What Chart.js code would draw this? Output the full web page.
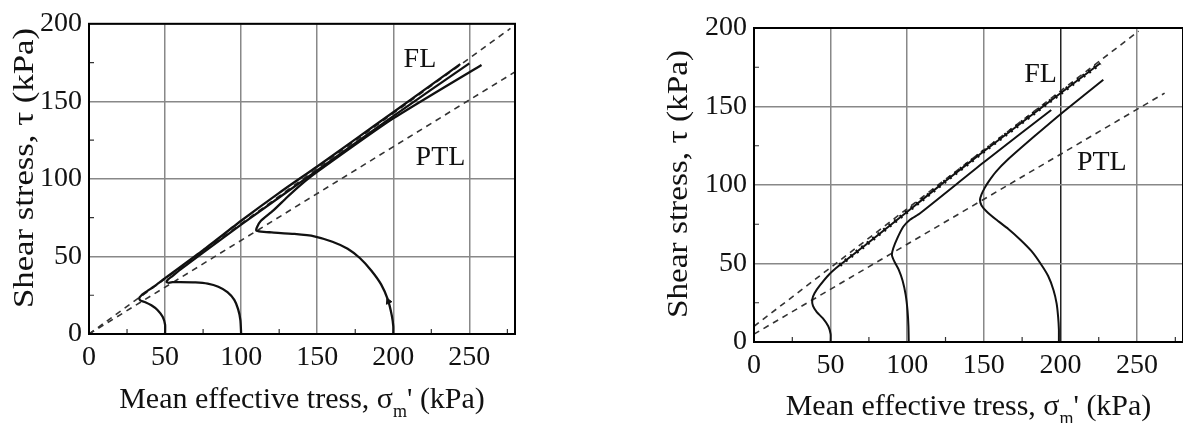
<!DOCTYPE html>
<html>
<head>
<meta charset="utf-8">
<script src="https://cdn.jsdelivr.net/npm/chart.js@4.4.1/dist/chart.umd.min.js"></script>
<style>
  html, body { margin: 0; padding: 0; background: #fff; overflow: hidden; width: 1183px; height: 423px; }
  .box { position: absolute; top: 0; }
  #boxA { left: 0; }
  #boxB { left: 640px; }
</style>
</head>
<body>
<div class="box" id="boxA"><canvas id="chartA" width="540" height="423"></canvas></div>
<div class="box" id="boxB"><canvas id="chartB" width="560" height="423"></canvas></div>
<script>
// axis ticks shared by both panels
const xTicks = [0, 50, 100, 150, 200, 250];
const yTicks = [0, 50, 100, 150, 200];
const xMax = 280;
const yMax = 200;

// left panel: stress paths from p0 = 50, 100, 200 kPa  [sigma_m', tau]
const leftPath50 = [[50,0],[50,6],[48.5,11],[45,15.5],[41,18.5],[37,20.5],[34,21.5],[33,23],[34.5,25],[38,27.5],[44,31.5],[50,36],[75,54],[100,73],[125,91],[150,108],[175,125.5],[200,143],[244,174]];
const leftPath100 = [[100,0],[99.5,9],[98,16],[95.5,22],[91,27],[85,30.5],[78,32.5],[70,33.3],[60,33.5],[55,33.4],[52.5,33],[51,33.6],[52,35.2],[55,37.5],[60,41.5],[75,52.5],[100,70.5],[150,105.5],[200,140.5],[250,174.5]];
const leftPath200 = [[200,0],[200,5],[199,12],[196.5,22],[192,32],[185.5,41],[178,49],[170,55],[160,59.5],[148,63],[135,64.5],[120,65.5],[113,66],[110,66.7],[110.5,69],[113,73],[121,79.5],[130,88],[139,96],[150,104.5],[200,139],[258,173.5]];
const leftArrow = [[196.8,21]];
const leftFL = [[0,0],[277,197]];
const leftPTL = [[0,0],[280,169]];

// right panel
const rightPath50 = [[50,0],[50,5],[48.5,10],[45,15],[41,19],[38.5,23],[38,27],[39.5,31],[43,36],[49,43],[56,49],[75,63.5],[100,83],[125,102.5],[150,121.5],[175,140],[200,158.4],[226,177.5]];
const rightPath100 = [[101,0],[100.8,10],[100.2,20],[99,30],[97,39],[94.5,46],[91.5,51.5],[90,55.4],[90.9,59.7],[93.5,66],[97.4,73.4],[102,78],[108.4,82],[150,114.5],[194,147.8]];
const rightPath200 = [[199,0],[199,8],[198.5,16],[197.5,24.6],[195.5,33],[192,42],[187,50],[181,58],[174,65],[166,72],[158,78],[152,83],[148.5,87],[147.5,90.4],[148.5,94],[150.5,98],[153,102],[158,108.5],[165,115.6],[183,131],[202,146.7],[228,167]];
const rightFL = [[0,10],[251,198]];
const rightPTL = [[0,5],[268,158.5]];

const serif = "'Liberation Serif', 'Times New Roman', serif";
const pts = arr => arr.map(p => ({ x: p[0], y: p[1] }));

function solid(data, w) {
  return { data: pts(data), showLine: true, borderColor: '#111', borderWidth: w, pointRadius: 0, tension: 0.2, borderJoinStyle: 'round' };
}
function dashed(data) {
  return { data: pts(data), showLine: true, borderColor: '#333', borderWidth: 1.6, borderDash: [6, 5], pointRadius: 0 };
}

// frame, minor ticks, FL/PTL labels and axis titles
const decor = {
  id: 'decor',
  afterDraw(chart, args, o) {
    const { ctx, chartArea: a, scales: { x, y } } = chart;
    ctx.save();
    ctx.strokeStyle = '#333';
    ctx.lineWidth = 1.2;
    ctx.beginPath();
    for (let v = 25; v < xMax; v += 50) {
      const px = x.getPixelForValue(v);
      ctx.moveTo(px, a.bottom); ctx.lineTo(px, a.bottom - 5);
    }
    for (let v = 25; v < yMax; v += 50) {
      const py = y.getPixelForValue(v);
      ctx.moveTo(a.left, py); ctx.lineTo(a.left + 5, py);
    }
    ctx.stroke();

    ctx.strokeStyle = '#000';
    ctx.lineWidth = 2;
    ctx.strokeRect(a.left, a.top, a.right - a.left, a.bottom - a.top);

    ctx.fillStyle = '#111';
    ctx.font = '28px ' + serif;
    ctx.textAlign = 'center';
    ctx.textBaseline = 'middle';
    o.labels.forEach(l => ctx.fillText(l.text, x.getPixelForValue(l.x), y.getPixelForValue(l.y)));

    // x title with subscript m
    const big = '30px ' + serif, small = '18px ' + serif;
    const p1 = 'Mean effective tress, \u03c3', p2 = 'm', p3 = "' (kPa)";
    ctx.textAlign = 'left';
    ctx.textBaseline = 'alphabetic';
    ctx.font = big; const w1 = ctx.measureText(p1).width, w3 = ctx.measureText(p3).width;
    ctx.font = small; const w2 = ctx.measureText(p2).width;
    let tx = (a.left + a.right) / 2 - (w1 + w2 + w3) / 2;
    const by = o.xTitleY;
    ctx.font = big; ctx.fillText(p1, tx, by); tx += w1;
    ctx.font = small; ctx.fillText(p2, tx, by + 9); tx += w2;
    ctx.font = big; ctx.fillText(p3, tx, by);

    // y title, rotated
    const yt = 'Shear stress, \u03c4 (kPa)';
    ctx.font = big;
    const wy = ctx.measureText(yt).width;
    ctx.translate(o.yTitleX, o.yTitleMid);
    ctx.rotate(-Math.PI / 2);
    ctx.scale(o.yTitleLen / wy, 1);
    ctx.textAlign = 'center';
    ctx.textBaseline = 'middle';
    ctx.fillText(yt, 0, 0);
    ctx.restore();
  }
};

function makeChart(id, datasets, box, decorOpts, darkX) {
  const canvas = document.getElementById(id);
  const W = canvas.width, H = canvas.height;
  return new Chart(canvas, {
    type: 'scatter',
    data: { datasets: datasets },
    options: {
      responsive: false,
      animation: false,
      layout: { padding: { left: 0, top: box.top, right: W - box.right, bottom: 0 } },
      plugins: { legend: { display: false }, tooltip: { enabled: false }, decor: decorOpts },
      scales: {
        x: {
          type: 'linear', min: 0, max: xMax,
          afterFit: s => { s.height = H - box.bottom; },
          afterBuildTicks: s => { s.ticks = xTicks.map(v => ({ value: v })); },
          ticks: { autoSkip: false, maxRotation: 0, padding: 7, color: '#111', font: { family: serif, size: 28 } },
          grid: { drawTicks: false, lineWidth: 1.5, color: c => (darkX && c.tick && c.tick.value === 200) ? '#222' : '#888' },
          border: { display: false }
        },
        y: {
          type: 'linear', min: 0, max: yMax,
          afterFit: s => { s.width = box.left; },
          afterBuildTicks: s => { s.ticks = yTicks.map(v => ({ value: v })); },
          ticks: { padding: 7, color: '#111', font: { family: serif, size: 28 } },
          grid: { drawTicks: false, lineWidth: 1.5, color: '#888' },
          border: { display: false }
        }
      }
    },
    plugins: [decor]
  });
}

const arrowSet = {
  data: pts(leftArrow), pointStyle: 'triangle', pointRadius: 3.5, pointRotation: -25,
  backgroundColor: '#111', borderColor: '#111', showLine: false
};

makeChart('chartA', [
  solid(leftPath50, 2.3),
  solid(leftPath100, 2.3),
  solid(leftPath200, 2.3),
  arrowSet,
  dashed(leftFL),
  dashed(leftPTL)
], { left: 89, right: 515, top: 22, bottom: 334 }, {
  labels: [{ text: 'FL', x: 217.5, y: 177 }, { text: 'PTL', x: 231, y: 113.5 }],
  xTitleY: 408, yTitleX: 25, yTitleMid: 168, yTitleLen: 280
}, false);

// beads along the failure line part of the 50 kPa path
const beads = {
  data: pts(rightPath50.slice(10)), showLine: true, borderColor: '#111', borderWidth: 4,
  borderDash: [2, 5], pointRadius: 0
};

makeChart('chartB', [
  solid(rightPath50, 2),
  beads,
  solid(rightPath100, 2),
  solid(rightPath200, 2),
  dashed(rightFL),
  dashed(rightPTL)
], { left: 114, right: 543, top: 28, bottom: 342 }, {
  labels: [{ text: 'FL', x: 187, y: 170 }, { text: 'PTL', x: 227, y: 114 }],
  xTitleY: 415, yTitleX: 39, yTitleMid: 184, yTitleLen: 268
}, true);
</script>
</body>
</html>
